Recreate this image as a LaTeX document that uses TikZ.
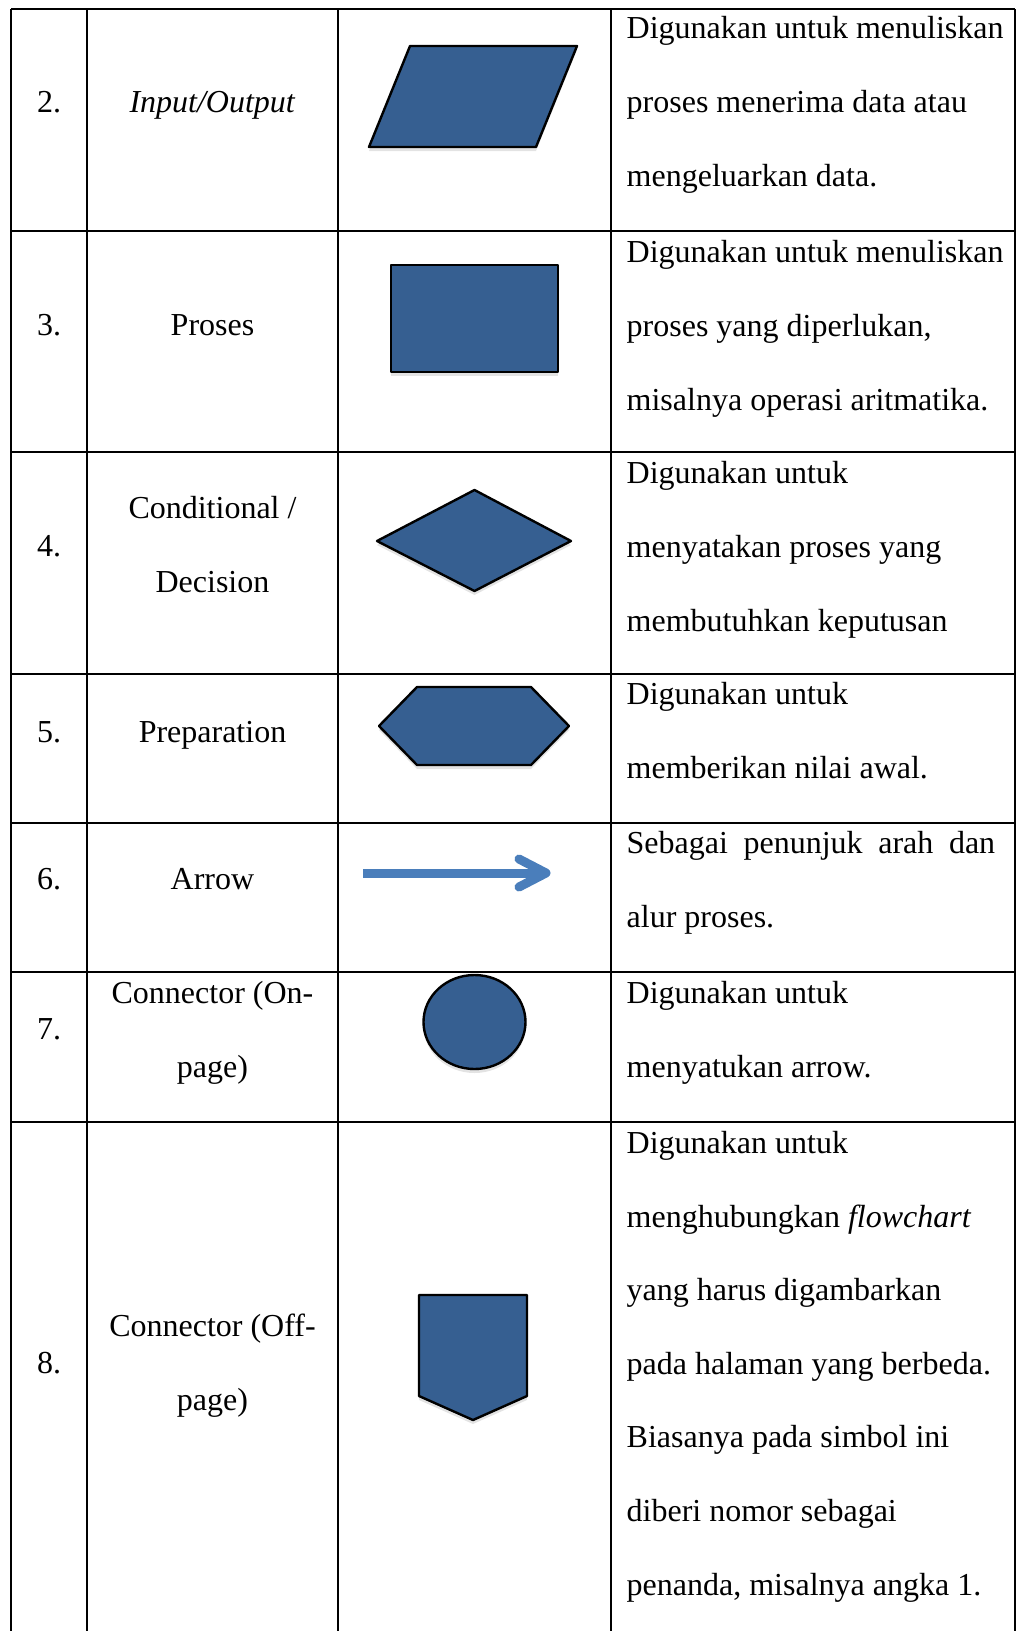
\documentclass[tikz,border=0pt]{standalone}
\usepackage{fontspec}
\setmainfont{Liberation Serif}
\usetikzlibrary{shadows}
\definecolor{symblue}{RGB}{54,95,145}
\definecolor{arrowblue}{RGB}{74,126,187}
\newcommand{\cellfont}{\fontsize{32}{73.6}\selectfont}
\tikzstyle{gridline} = [draw, line width=2.4pt]
\tikzstyle{rownum} = [anchor=base, inner sep=0pt, font=\cellfont]
\tikzstyle{term} = [anchor=base, inner sep=0pt, align=center, font=\cellfont]
\tikzstyle{desc} = [anchor=base west, inner sep=0pt, align=left, font=\cellfont]
\tikzstyle{symbol} = [draw=black, line width=2.4pt, line join=round, fill=symblue,
    drop shadow={opacity=0.22, shadow xshift=0pt, shadow yshift=-4pt}]
\tikzstyle{flow} = [draw=arrowblue, line width=9pt, line join=round]

\begin{document}
\begin{tikzpicture}[x=1pt, y=-1pt]
            \useasboundingbox (0,0) rectangle (1023,1631);
            % Table rules
            \foreach \y in {9,231,452,674,823,972,1122}
                \path [gridline] (11,\y) -- (1015,\y);
            \foreach \x in {11,87,338,611,1015}
                \path [gridline] (\x,9) -- (\x,1631);
            % Place nodes (multi-line nodes sit on their last baseline)
            \node [rownum] (num2) at (49,112) {2.};
            \node [term] (io) at (212.5,112) {\textit{Input/Output}};
            \node [desc] (iodesc) at (626.5,186) {Digunakan untuk menuliskan\\proses menerima data atau\\mengeluarkan data.};
            \node [rownum] (num3) at (49,335) {3.};
            \node [term] (proc) at (212.5,335) {Proses};
            \node [desc] (procdesc) at (626.5,410) {Digunakan untuk menuliskan\\proses yang diperlukan,\\misalnya operasi aritmatika.};
            \node [rownum] (num4) at (49,556) {4.};
            \node [term] (dec) at (212.5,592) {Conditional /\\Decision};
            \node [desc] (decdesc) at (626.5,631) {Digunakan untuk\\menyatakan proses yang\\membutuhkan keputusan};
            \node [rownum] (num5) at (49,742) {5.};
            \node [term] (prep) at (212.5,742) {Preparation};
            \node [desc] (prepdesc) at (626.5,778) {Digunakan untuk\\memberikan nilai awal.};
            \node [rownum] (num6) at (49,889) {6.};
            \node [term] (arr) at (212.5,889) {Arrow};
            \node [desc] (arrdesc) at (626.5,927) {\makebox[368.5pt][s]{Sebagai penunjuk arah dan}\\alur proses.};
            \node [rownum] (num7) at (49,1039) {7.};
            \node [term] (onpage) at (212.5,1077) {Connector (On-\\page)};
            \node [desc] (onpagedesc) at (626.5,1077) {Digunakan untuk\\menyatukan arrow.};
            \node [rownum] (num8) at (49,1373) {8.};
            \node [term] (offpage) at (212.5,1410) {Connector (Off-\\page)};
            \node [desc] (offpagedesc) at (626.5,1595) {Digunakan untuk\\menghubungkan \textit{flowchart}\\yang harus digambarkan\\pada halaman yang berbeda.\\Biasanya pada simbol ini\\diberi nomor sebagai\\penanda, misalnya angka 1.};
            % Draw symbols
            \path [symbol] (410,46) -- (577,46) -- (536,147) -- (369,147) -- cycle;
            \path [symbol] (391,265) rectangle (558,372);
            \path [symbol] (377,541) -- (474.5,490) -- (571,541) -- (474.5,591) -- cycle;
            \path [symbol] (379,726) -- (417,687) -- (531,687) -- (569,726) -- (531,765) -- (417,765) -- cycle;
            \path [symbol] (474.5,1022) ellipse [x radius=51, y radius=47];
            \path [symbol] (419,1295) -- (527,1295) -- (527,1396) -- (473,1420) -- (419,1396) -- cycle;
            \coordinate (tail) at (363,873);
            \coordinate (tip) at (546,873);
            \path [flow] (tail) -- (tip);
            \path [flow, line cap=round] (519,859) -- (tip) -- (519,887);
        \end{tikzpicture}
\end{document}
